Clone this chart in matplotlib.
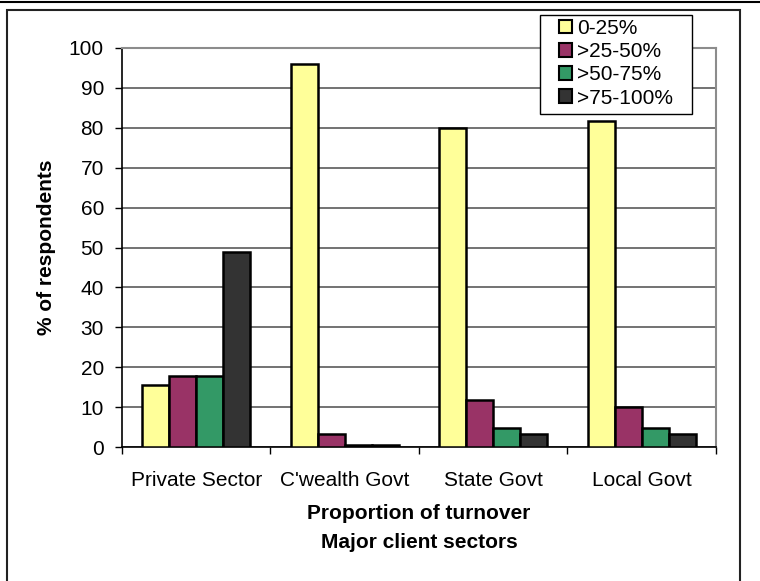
import matplotlib.pyplot as plt
import numpy as np
from matplotlib.patches import Rectangle
from matplotlib.lines import Line2D

plt.rcParams['font.family'] = ['Liberation Sans', 'DejaVu Sans']

sectors = ['Private Sector', "C'wealth Govt", 'State Govt', 'Local Govt']
bands = ['0-25%', '>25-50%', '>50-75%', '>75-100%']
colors = ['#FFFF99', '#993366', '#339966', '#333333']

low = [15.5, 96.0, 80.0, 81.8]
mid_low = [17.8, 3.3, 11.8, 10.1]
mid_high = [17.8, 0.4, 4.8, 4.8]
high = [48.8, 0.4, 3.3, 3.3]
series = [low, mid_low, mid_high, high]

fs = 15

fig = plt.figure(figsize=(7.6, 5.81), dpi=100)
ax = fig.add_axes([0.1605, 0.2306, 0.7816, 0.6868])

x = np.arange(len(sectors))
w = 1 / 5.5
for i, (vals, lab, c) in enumerate(zip(series, bands, colors)):
    ax.bar(x + (i - 1.5) * w, vals, w, color=c, edgecolor='black',
           linewidth=1.8, label=lab, zorder=3)

ax.set_xlim(-0.5, 3.5)
ax.set_ylim(0, 100)
ax.set_yticks(range(0, 101, 10))
ax.yaxis.grid(True, color='#5a5a5a', linewidth=1.2, zorder=0)

ax.set_xticks(x)
ax.set_xticklabels(sectors, fontsize=fs)
ax.tick_params(axis='x', length=0, pad=17)
ax.set_xticks(np.arange(-0.5, 4, 1), minor=True)
ax.tick_params(axis='x', which='minor', length=5, width=1, direction='out')
ax.tick_params(axis='y', labelsize=fs, length=5, width=1, direction='out', pad=8)

for s in ['top', 'right']:
    ax.spines[s].set_color('#8c8c8c')
    ax.spines[s].set_linewidth(1.5)
ax.spines['left'].set_linewidth(1.2)
ax.spines['bottom'].set_linewidth(1.2)

ax.set_ylabel('% of respondents', fontsize=fs, fontweight='bold', labelpad=9)
ax.set_xlabel('Proportion of turnover\nMajor client sectors', fontsize=fs,
              fontweight='bold', labelpad=10, linespacing=1.72)

handles, labels = ax.get_legend_handles_labels()
leg = fig.legend(handles, labels, loc='upper left',
                 bbox_to_anchor=(559 / 760, 1 - 19 / 581), fontsize=fs, frameon=False,
                 handlelength=0.62, handleheight=0.62, handletextpad=0.24,
                 labelspacing=0.2, borderpad=0, borderaxespad=0)
for h in leg.legend_handles:
    h.set_linewidth(1.5)
leg.set_zorder(6)

# legend frame drawn separately so the padding matches
fig.patches.append(Rectangle((540 / 760, 1 - 114 / 581), 152 / 760, 99 / 581,
                             transform=fig.transFigure, facecolor='white',
                             edgecolor='black', linewidth=1.0, zorder=5))

# outer chart border
fig.patches.append(Rectangle((7 / 760, -0.01), 733 / 760, 1 - 10 / 581 + 0.01,
                             transform=fig.transFigure, fill=False,
                             edgecolor='#222222', linewidth=1.5))
fig.lines.append(Line2D([0, 1], [1 - 2 / 581, 1 - 2 / 581], transform=fig.transFigure,
                        color='black', linewidth=1.5))

fig.savefig('out.png', dpi=100)
